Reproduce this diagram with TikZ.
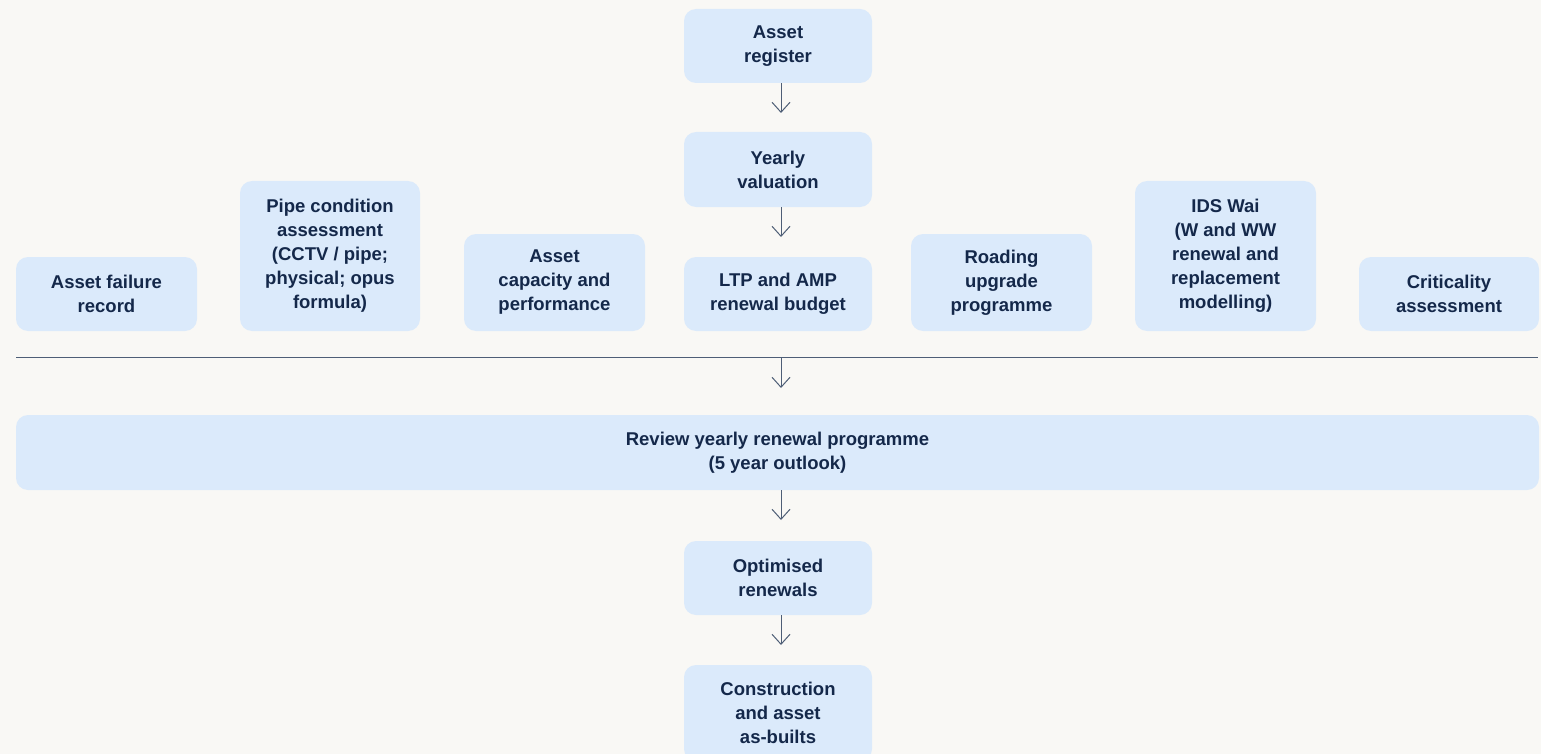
\documentclass[tikz,border=0pt]{standalone}
\usepackage{fontspec}
\setmainfont{Liberation Sans}
\usetikzlibrary{arrows.meta}
\definecolor{bgc}{HTML}{F9F8F5}
\definecolor{boxc}{HTML}{DBEAFB}
\definecolor{txtc}{HTML}{14284A}
\definecolor{arrc}{HTML}{4E5E76}
\tikzset{
  box/.style={fill=boxc, rounded corners=12pt, text=txtc, align=center,
    font=\fontsize{18.5}{24}\selectfont\bfseries, inner sep=0pt},
  flow/.style={draw=arrc, line width=1pt, -{Straight Barb[length=10pt,width=18pt,line width=1pt]}}
}
\begin{document}
\begin{tikzpicture}[x=1pt,y=-1pt]
\useasboundingbox (0,0) rectangle (1541,754);
\fill[bgc] (0,0) rectangle (1541,754);
\clip (0,0) rectangle (1541,754);
\newcommand{\bx}[6]{\node[box, minimum width=#4pt, minimum height=#5pt] (#1) at (#2,#3) {#6};}
\bx{reg}{778}{46}{188}{74}{Asset\\register}
\bx{val}{778}{169.5}{188}{75}{Yearly\\valuation}
\bx{ltp}{778}{294}{188}{74}{LTP and AMP\\renewal budget}
\bx{fail}{106.5}{294}{181}{74}{Asset failure\\record}
\bx{pipe}{330}{256}{180}{150}{Pipe condition\\assessment\\(CCTV / pipe;\\physical; opus\\formula)}
\bx{cap}{554.5}{282.5}{181}{97}{Asset\\capacity and\\performance}
\bx{road}{1001.5}{282.5}{181}{97}{Roading\\upgrade\\programme}
\bx{ids}{1225.5}{256}{181}{150}{IDS Wai\\(W and WW\\renewal and\\replacement\\modelling)}
\bx{crit}{1449}{294}{180}{74}{Criticality\\assessment}
\bx{rev}{777.5}{452.5}{1523}{75}{Review yearly renewal programme\\(5 year outlook)}
\bx{opt}{778}{578}{188}{74}{Optimised\\renewals}
\bx{con}{778}{713}{188}{96}{Construction\\and asset\\as-builts}
\draw[arrc, line width=1pt] (16,357) coordinate (la) -- (1538,357) coordinate (lb);
\coordinate (lm) at (781,357);
\coordinate (a1) at (781,113);
\coordinate (a2) at (781,237);
\coordinate (a3) at (781,388);
\coordinate (a4) at (781,520);
\coordinate (a5) at (781,645);
\draw[flow] (reg.south -| a1) -- (a1);
\draw[flow] (val.south -| a2) -- (a2);
\draw[flow] (lm) -- (a3);
\draw[flow] (rev.south -| a4) -- (a4);
\draw[flow] (opt.south -| a5) -- (a5);
\end{tikzpicture}
\end{document}
